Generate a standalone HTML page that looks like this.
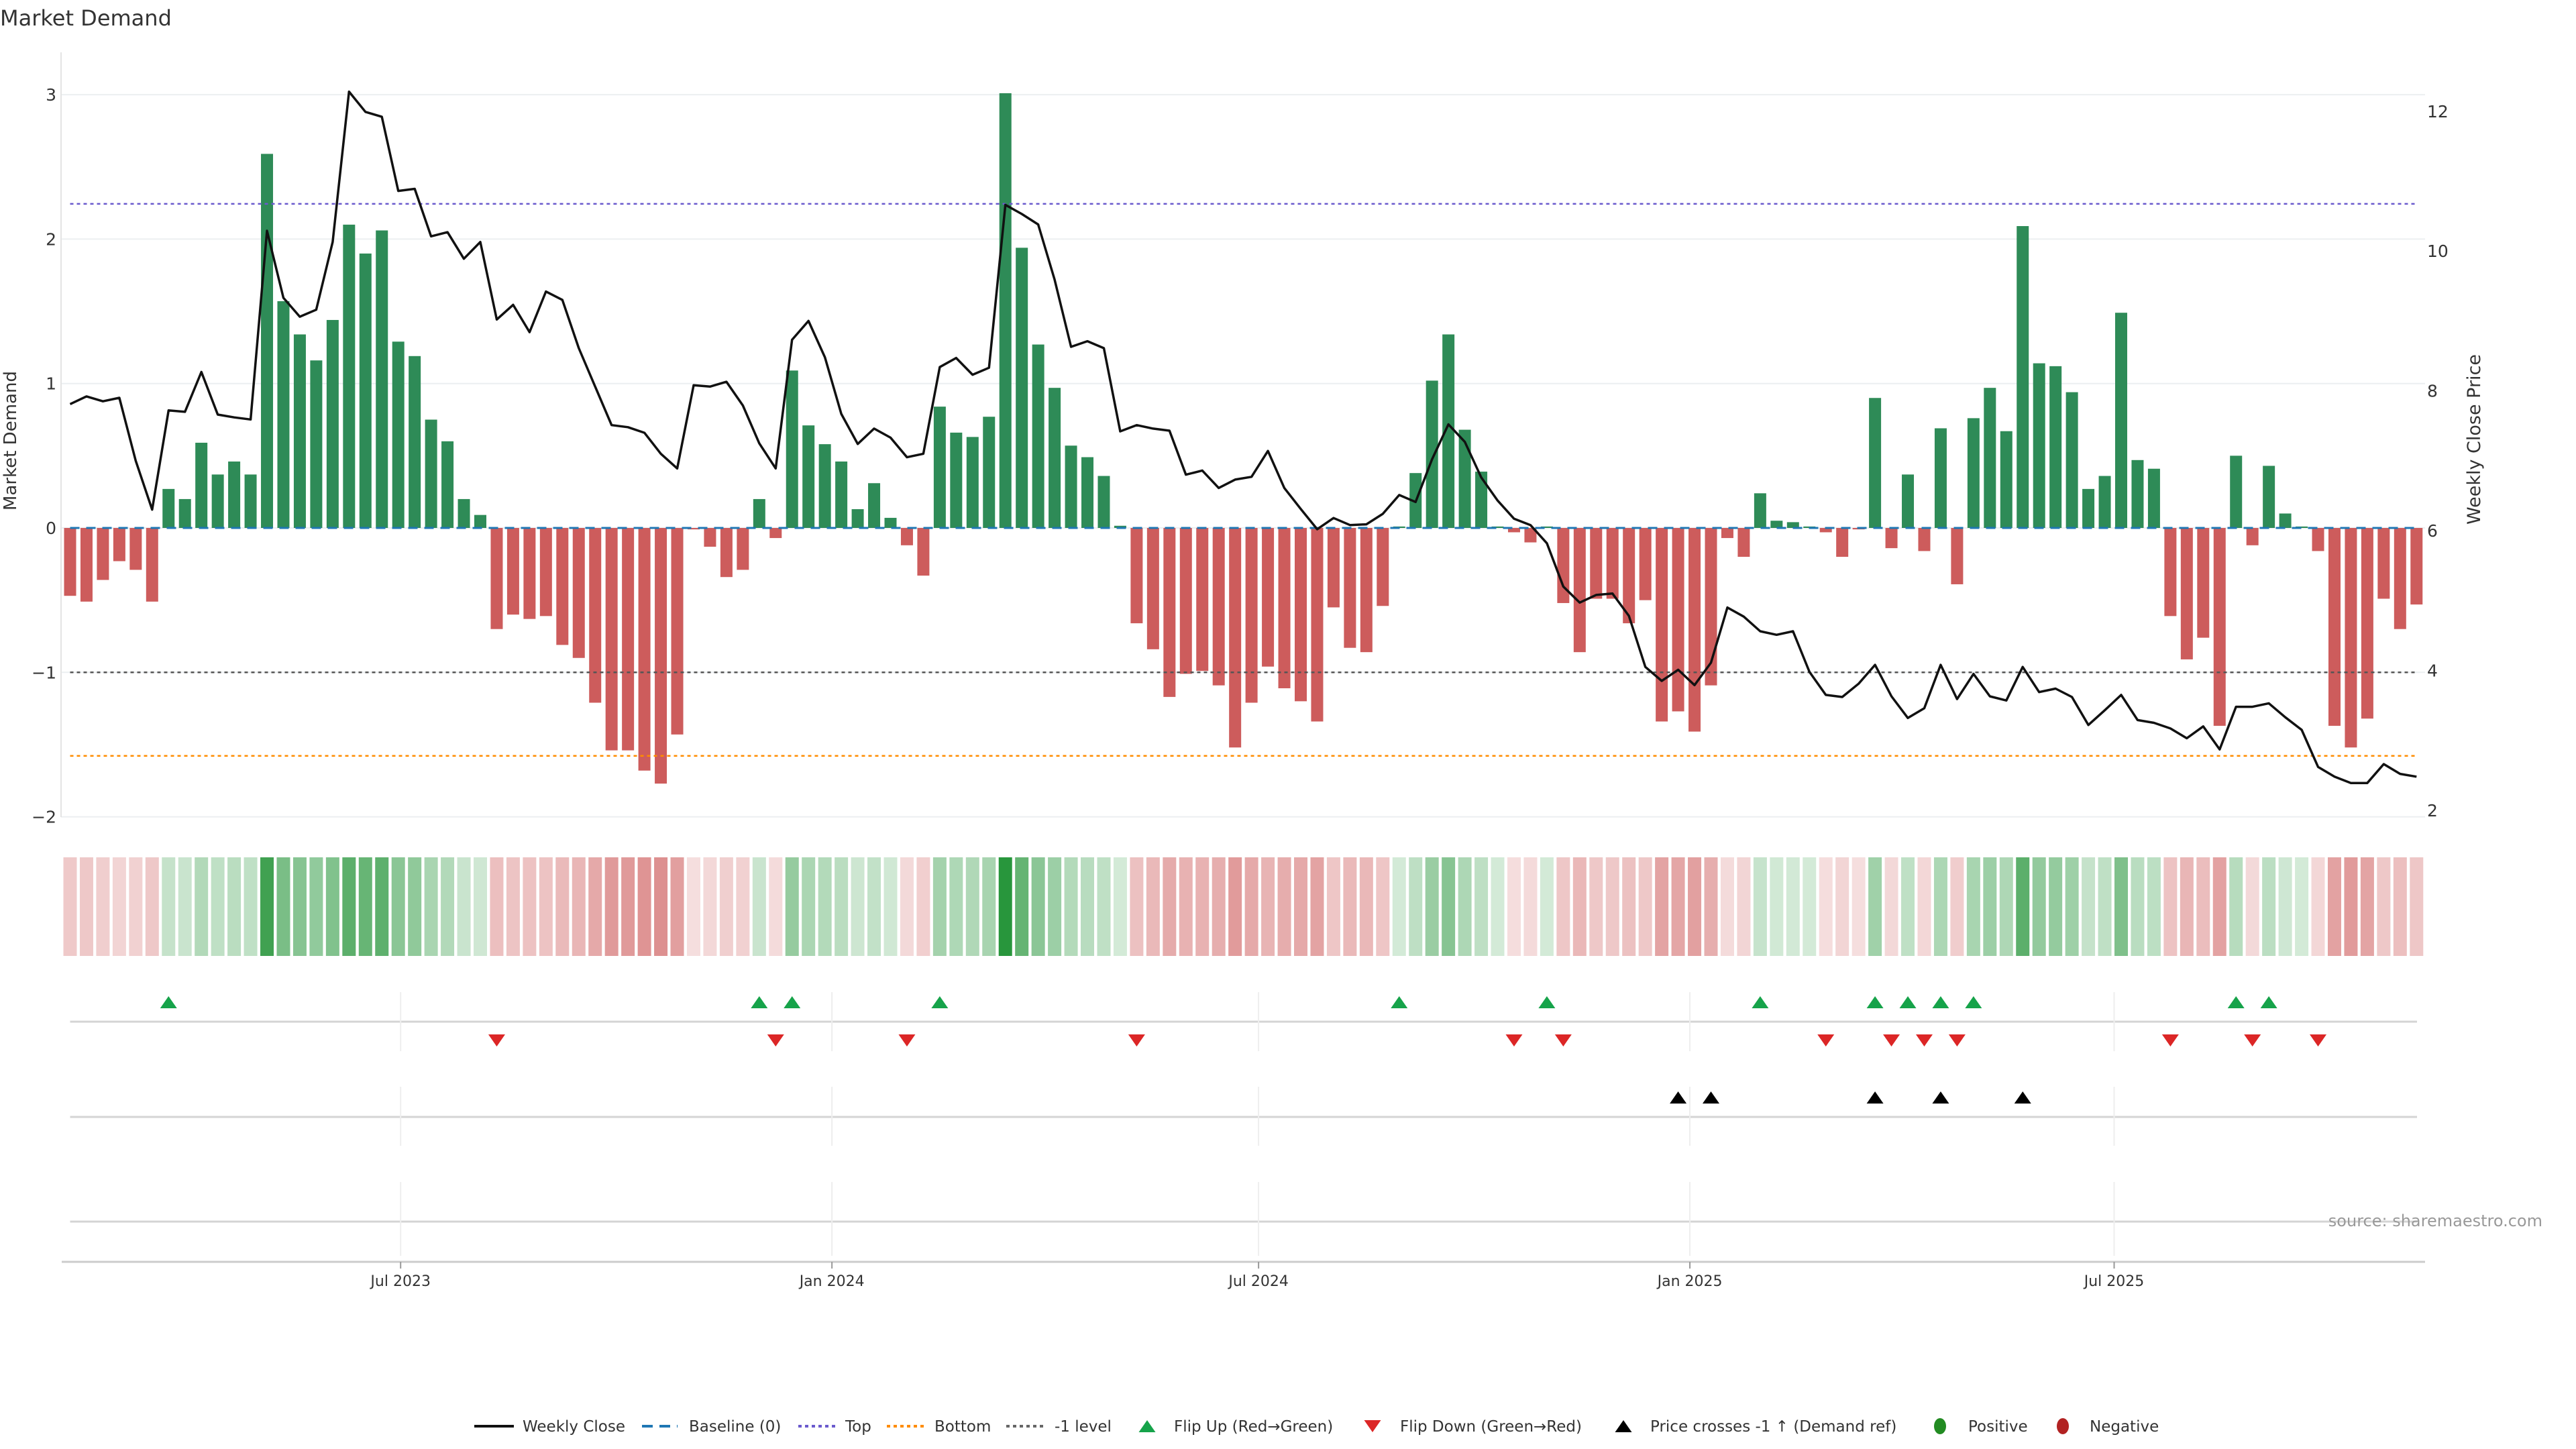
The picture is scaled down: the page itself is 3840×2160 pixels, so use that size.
<!DOCTYPE html>
<html><head><meta charset="utf-8"><title>Market Demand</title>
<style>
html,body{margin:0;padding:0;background:#fff;}
svg{display:block;font-family:"DejaVu Sans","Liberation Sans",sans-serif;}
</style></head>
<body>
<svg id="chart" width="3840" height="2160" viewBox="0 0 3840 2160" xmlns="http://www.w3.org/2000/svg">
<text x="0" y="38" font-size="32" fill="#333">Market Demand</text>
<g id="grid"></g>
<g id="bars"></g>
<g id="refs"></g>
<g id="line"></g>
<g id="axes"></g>
<g id="heat"></g>
<g id="flips"></g>
<g id="legend"></g>
<text x="3790" y="1828" font-size="24" fill="#999" text-anchor="end">source: sharemaestro.com</text>
</svg>
<script>
const demand = [-0.47,-0.51,-0.36,-0.23,-0.29,-0.51,0.27,0.20,0.59,0.37,
0.46,0.37,2.59,1.57,1.34,1.16,1.44,2.10,1.90,2.06,
1.29,1.19,0.75,0.60,0.20,0.09,-0.70,-0.60,-0.63,-0.61,
-0.81,-0.90,-1.21,-1.54,-1.54,-1.68,-1.77,-1.43,-0.01,-0.13,
-0.34,-0.29,0.20,-0.07,1.09,0.71,0.58,0.46,0.13,0.31,
0.07,-0.12,-0.33,0.84,0.66,0.63,0.77,3.01,1.94,1.27,
0.97,0.57,0.49,0.36,0.015,-0.66,-0.84,-1.17,-1.01,-0.99,
-1.09,-1.52,-1.21,-0.96,-1.11,-1.20,-1.34,-0.55,-0.83,-0.86,
-0.54,0.01,0.38,1.02,1.34,0.68,0.39,0.01,-0.03,-0.10,
0.01,-0.52,-0.86,-0.49,-0.49,-0.66,-0.50,-1.34,-1.27,-1.41,
-1.09,-0.07,-0.20,0.24,0.05,0.04,0.01,-0.03,-0.20,-0.01,
0.90,-0.14,0.37,-0.16,0.69,-0.39,0.76,0.97,0.67,2.09,
1.14,1.12,0.94,0.27,0.36,1.49,0.47,0.41,-0.61,-0.91,
-0.76,-1.37,0.50,-0.12,0.43,0.10,0.01,-0.16,-1.37,-1.52,
-1.32,-0.49,-0.70,-0.53];
const price = [7.81,7.92,7.85,7.90,7.00,6.30,7.72,7.70,8.27,7.66,
7.62,7.59,10.29,9.33,9.06,9.16,10.13,12.28,11.99,11.92,
10.86,10.89,10.21,10.27,9.89,10.13,9.02,9.23,8.84,9.42,
9.30,8.61,8.06,7.51,7.48,7.40,7.10,6.89,8.08,8.06,
8.13,7.79,7.25,6.89,8.73,9.00,8.48,7.67,7.24,7.46,
7.33,7.05,7.10,8.34,8.47,8.23,8.33,10.66,10.53,10.38,
9.59,8.63,8.71,8.61,7.42,7.51,7.46,7.43,6.80,6.86,
6.61,6.73,6.77,7.14,6.61,6.31,6.02,6.18,6.08,6.09,
6.24,6.51,6.41,7.02,7.52,7.27,6.76,6.43,6.17,6.08,
5.82,5.20,4.97,5.08,5.10,4.78,4.05,3.85,4.01,3.79,
4.11,4.90,4.77,4.56,4.51,4.56,3.98,3.65,3.62,3.81,
4.08,3.63,3.32,3.46,4.08,3.59,3.95,3.63,3.57,4.05,
3.69,3.74,3.62,3.22,3.43,3.65,3.29,3.25,3.17,3.03,
3.20,2.87,3.48,3.48,3.53,3.33,3.15,2.62,2.48,2.39,
2.39,2.66,2.52,2.48];
const startDate = "2023-02-10";
const leftTicks = [3,2,1,0,-1,-2];
const rightTicks = [12,10,8,6,4,2];
const dateTicks = ["2023-07-01","2024-01-01","2024-07-01","2025-01-01","2025-07-01"];
const dateTickLabels = ["Jul 2023","Jan 2024","Jul 2024","Jan 2025","Jul 2025"];
const refLevels = [2.244,-1,-1.578];
const refNames = ["top-line","minus-one-line","bottom-line"];
const priceLevel = 4;

const NS="http://www.w3.org/2000/svg";
function mk(parent,tag,attrs){const e=document.createElementNS(NS,tag);for(const k in attrs)e.setAttribute(k,attrs[k]);parent.appendChild(e);return e;}
const X0=104.5, STEP=24.46, PL=91, PR=3615;
const x = i => X0 + i*STEP;
const yD = v => 787 - v*215.3;
const yP = p => 791 - (p-6)*104.2;
const t0 = Date.parse(startDate);
const xDate = s => X0 + (Date.parse(s)-t0)/(7*864e5)*STEP;

const grid=document.getElementById('grid'), axes=document.getElementById('axes');
leftTicks.forEach(v=>{
  const l=mk(grid,'line',{x1:PL,x2:PR,y1:yD(v),y2:yD(v),stroke:'#eceff1','stroke-width':2});
  
  
  const t=mk(axes,'text',{x:84,y:yD(v)+9,'font-size':25,fill:'#333','text-anchor':'end'});
  t.textContent = v<0 ? '\u2212'+Math.abs(v) : String(v);
  
  
});
rightTicks.forEach(p=>{
  const t=mk(axes,'text',{x:3618,y:yP(p)+9,'font-size':25,fill:'#333'});
  t.textContent=String(p);
  
  
});
const sp=mk(axes,'line',{x1:PL,x2:PL,y1:78,y2:1218,stroke:'#e4e4e4','stroke-width':2});


const lt=mk(axes,'text',{x:0,y:0,'font-size':26,fill:'#333','text-anchor':'middle',transform:'translate(24,657) rotate(-90)'});
lt.textContent='Market Demand';


const rt=mk(axes,'text',{x:0,y:0,'font-size':27,fill:'#333','text-anchor':'middle',transform:'translate(3697,655) rotate(-90)'});
rt.textContent='Weekly Close Price';



const bars=document.getElementById('bars');
demand.forEach((v,i)=>{
  const y1=yD(Math.max(v,0)), y2=yD(Math.min(v,0));
  const r=mk(bars,'rect',{x:x(i)-9,y:y1,width:18,height:Math.max(y2-y1,1),fill:v>=0?'#2e8b57':'#cd5c5c'});
  
  
});
const refs=document.getElementById('refs');
const bl=mk(refs,'line',{x1:X0,x2:x(demand.length-1)+2,y1:yD(0),y2:yD(0),stroke:'#1f77b4','stroke-width':3,'stroke-dasharray':'14 10'});


const refColors=['#6a5acd','#555','#ff8c00'];
refLevels.forEach((v,k)=>{
  const l=mk(refs,'line',{x1:X0,x2:x(demand.length-1)+2,y1:yD(v),y2:yD(v),stroke:refColors[k],'stroke-width':2.5,'stroke-dasharray':'5 5'});
  
  
});
const lineG=document.getElementById('line');
const pts=price.map((p,i)=>x(i).toFixed(1)+','+yP(p).toFixed(1)).join(' ');
const pl=mk(lineG,'polyline',{points:pts,fill:'none',stroke:'#111','stroke-width':3.5,'stroke-linejoin':'round'});



const heat=document.getElementById('heat');
demand.forEach((v,i)=>{
  const t=Math.min(1,0.2+0.8*Math.abs(v)/3.0);
  const base=v>=0?[40,150,60]:[205,90,90];
  const c=base.map(b=>Math.round(255-(255-b)*t));
  const r=mk(heat,'rect',{x:x(i)-10,y:1278,width:20,height:147,fill:`rgb(${c[0]},${c[1]},${c[2]})`});
  
  
});

const fl=document.getElementById('flips');
[[1523,1479,1567],[1665,1620,1708],[1821,1762,1872]].forEach(([yl,a,b])=>{
  const h=mk(fl,'line',{x1:X0,x2:3603,y1:yl,y2:yl,stroke:'#d4d4d4','stroke-width':3});
  
  
  dateTicks.forEach(d=>{
    const v=mk(fl,'line',{x1:xDate(d),x2:xDate(d),y1:a,y2:b,stroke:'#eee','stroke-width':2});
    
    
  });
});
const ax=mk(fl,'line',{x1:92,x2:PR,y1:1881,y2:1881,stroke:'#ccc','stroke-width':3});


dateTicks.forEach((d,k)=>{
  const tk=mk(fl,'line',{x1:xDate(d),x2:xDate(d),y1:1881,y2:1891,stroke:'#999','stroke-width':2});
  
  
  const t=mk(fl,'text',{x:xDate(d),y:1917,'font-size':22,fill:'#333','text-anchor':'middle'});
  t.textContent=dateTickLabels[k];
  
  
});
function tri(g,cx,cy,up,fill){
  const w=12.5,h=9;
  const p = up ? `${cx-w},${cy+h} ${cx+w},${cy+h} ${cx},${cy-h}` : `${cx-w},${cy-h} ${cx+w},${cy-h} ${cx},${cy+h}`;
  return mk(g,'polygon',{points:p,fill:fill});
}
for(let i=1;i<demand.length;i++){
  if(demand[i-1]<0 && demand[i]>=0){
    const m=tri(fl,x(i),1494,true,'#16a34a');
    
    
  }
  if(demand[i-1]>=0 && demand[i]<0){
    const m=tri(fl,x(i),1551,false,'#dc2626');
    
    
  }
  if(price[i-1]<priceLevel && price[i]>=priceLevel){
    const m=tri(fl,x(i),1636,true,'#000');
    
    
  }
}

const lg=document.getElementById('legend');
const LY=2126;
function ltext(xp,s,name){const t=mk(lg,'text',{x:xp,y:LY+8,'font-size':23,fill:'#333'});t.textContent=s;}
let e;
e=mk(lg,'line',{x1:707,x2:766,y1:LY,y2:LY,stroke:'#111','stroke-width':4});
ltext(779,'Weekly Close','legend-weekly-close');
e=mk(lg,'line',{x1:957,x2:1010,y1:LY,y2:LY,stroke:'#1f77b4','stroke-width':4,'stroke-dasharray':'16 10'});
ltext(1027,'Baseline (0)','legend-baseline');
e=mk(lg,'line',{x1:1190,x2:1245,y1:LY,y2:LY,stroke:'#6a5acd','stroke-width':4,'stroke-dasharray':'5 5'});
ltext(1260,'Top','legend-top');
e=mk(lg,'line',{x1:1322,x2:1377,y1:LY,y2:LY,stroke:'#ff8c00','stroke-width':4,'stroke-dasharray':'5 5'});
ltext(1393,'Bottom','legend-bottom');
e=mk(lg,'line',{x1:1500,x2:1555,y1:LY,y2:LY,stroke:'#666','stroke-width':4,'stroke-dasharray':'5 5'});
ltext(1572,'-1 level','legend-minus-one');
e=tri(lg,1710,LY,true,'#16a34a');
ltext(1750,'Flip Up (Red\u2192Green)','legend-flip-up');
e=tri(lg,2046,LY,false,'#dc2626');
ltext(2087,'Flip Down (Green\u2192Red)','legend-flip-down');
e=tri(lg,2420,LY,true,'#000');
ltext(2460,'Price crosses -1 \u2191 (Demand ref)','legend-price-cross');
e=mk(lg,'ellipse',{cx:2892,cy:LY,rx:9,ry:12,fill:'#228b22'});
ltext(2934,'Positive','legend-positive');
e=mk(lg,'ellipse',{cx:3075,cy:LY,rx:9,ry:12,fill:'#b22222'});
ltext(3115,'Negative','legend-negative');
</script>
</body></html>
